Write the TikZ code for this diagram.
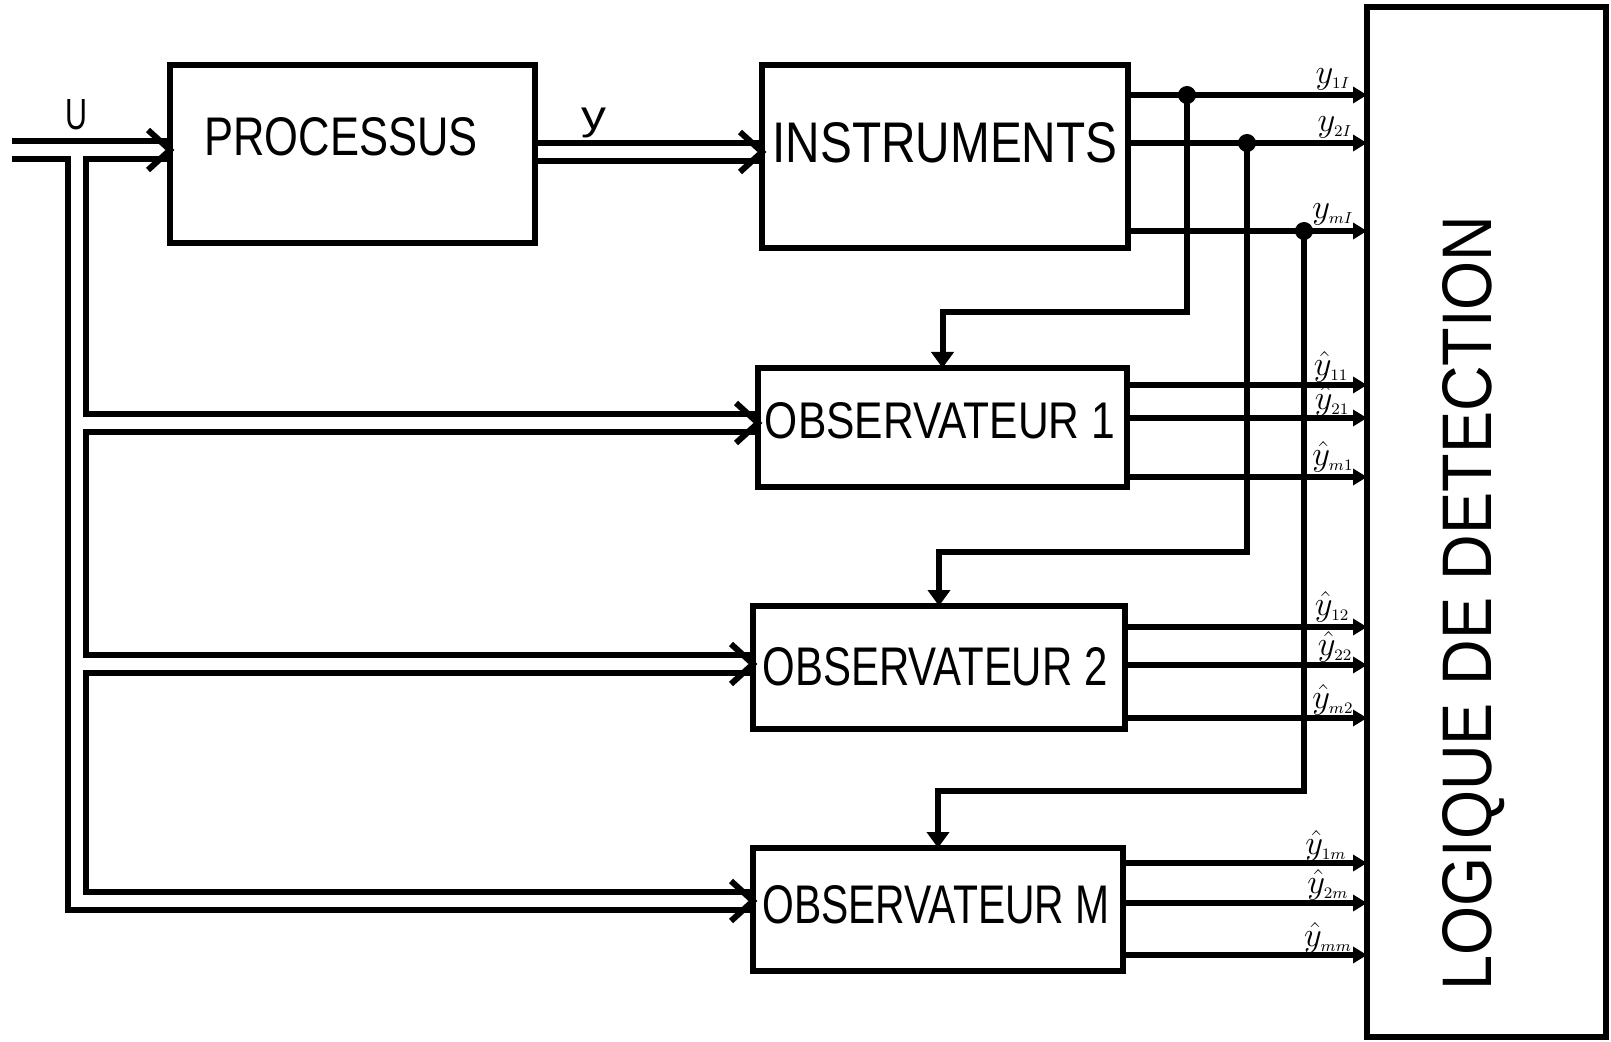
\documentclass[tikz,border=0pt]{standalone}
\usepackage{fontspec}
\setmainfont{Liberation Sans}
\usepackage{graphicx}
\usetikzlibrary{arrows.meta,calc}
\newcommand{\dblhead}[1]{\draw[chev] ($(#1)+(-22,-20)$) -- (#1) -- ($(#1)+(-22,20)$);}
\newcommand{\ysub}[2]{#1_{\scriptscriptstyle #2}}
\begin{document}
\begin{tikzpicture}[x=0.5pt,y=-0.5pt,
  box/.style={draw, line width=3pt, inner sep=0pt, outer sep=0pt, rectangle},
  wire/.style={line width=3pt, line cap=butt, line join=miter},
  bus/.style={line width=3pt, double=white, double distance=6pt, line join=miter},
  chev/.style={line width=3pt, line join=miter},
  outarrow/.style={wire, -{Triangle[length=7pt,width=8pt]}},
  downarrow/.style={wire, -{Triangle[length=8pt,width=11pt]}},
  dot/.style={circle, fill, inner sep=0pt, minimum size=9pt},
  lbl/.style={inner sep=0pt, font=\fontsize{16.5}{16.5}\selectfont},
  txt/.style={inner sep=0pt}
]
\useasboundingbox[fill=white] (0,0) rectangle (1611,1042);

% boxes
\node[box, minimum width=182.5pt, minimum height=89pt] (proc) at (352.5,154) {};
\node[box, minimum width=183pt, minimum height=91.5pt] (inst) at (945,156.5) {};
\node[box, minimum width=184.5pt, minimum height=59.5pt] (obs1) at (942.5,427.5) {};
\node[box, minimum width=186pt, minimum height=61.5pt] (obs2) at (939,667.5) {};
\node[box, minimum width=185pt, minimum height=61.5pt] (obsM) at (938,909.5) {};
\node[box, minimum width=119.5pt, minimum height=515pt] (logic) at (1486.5,522) {};

% box texts
\node[txt] (proctxt) at (341,137) {\resizebox{136.5pt}{19pt}{PROCESSUS}};
\node[txt] (insttxt) at (945,143) {\resizebox{172.5pt}{20pt}{INSTRUMENTS}};
\node[txt] (obs1txt) at (940,421) {\resizebox{175pt}{18pt}{OBSERVATEUR 1}};
\node[txt] (obs2txt) at (935,667) {\resizebox{172.5pt}{19pt}{OBSERVATEUR 2}};
\node[txt] (obsMtxt) at (936,905) {\resizebox{173.5pt}{19pt}{OBSERVATEUR M}};
\node[txt, rotate=90] (logictxt) at (1474,603) {\resizebox{387.5pt}{24.5pt}{LOGIQUE DE DETECTION}};
\node[txt] (ulbl) at (76,115) {\resizebox{11pt}{15pt}{U}};
\node[txt] (ylbl) at (594,123) {\resizebox*{12.5pt}{15pt}{y}};

% input bus U and y
\coordinate (uin) at (12,150);
\coordinate (ylev) at (0,152);
\coordinate (btop) at (77,156);
\coordinate (bbot) at (77,901);
\coordinate (b1) at (83,423);
\coordinate (b2) at (83,664);

\draw[bus, shorten >=1.5pt] (uin) -- (proc.west |- uin);
\dblhead{proc.west |- uin}
\draw[bus, shorten <=1.5pt, shorten >=1.5pt] (proc.east |- ylev) -- (inst.west |- ylev);
\dblhead{inst.west |- ylev}
\draw[bus, shorten >=1.5pt] (btop) -- (bbot) -- (obsM.west |- bbot);
\dblhead{obsM.west |- bbot}
\draw[bus, shorten >=1.5pt] (b1) -- (obs1.west |- b1);
\dblhead{obs1.west |- b1}
\draw[bus, shorten >=1.5pt] (b2) -- (obs2.west |- b2);
\dblhead{obs2.west |- b2}

% junction dots
\node[dot] (j1) at (1187,95) {};
\node[dot] (j2) at (1247,143) {};
\node[dot] (j3) at (1304,231) {};
\coordinate (k1) at (1187,312);
\coordinate (k2) at (1247,552);
\coordinate (k3) at (1304,791);

% instrument outputs
\draw[outarrow] (inst.east |- j1) -- (logic.west |- j1);
\draw[outarrow] (inst.east |- j2) -- (logic.west |- j2);
\draw[outarrow] (inst.east |- j3) -- (logic.west |- j3);

% feeds to observers
\draw[downarrow] (j1.center) -- (k1) -| (obs1.north);
\draw[downarrow] (j2.center) -- (k2) -| (obs2.north);
\draw[downarrow] (j3.center) -- (k3) -| (obsM.north);

% observer outputs
\coordinate (L11) at (0,385);
\coordinate (L21) at (0,418);
\coordinate (Lm1) at (0,477);
\coordinate (L12) at (0,627);
\coordinate (L22) at (0,665);
\coordinate (Lm2) at (0,718);
\coordinate (L1m) at (0,863);
\coordinate (L2m) at (0,903);
\coordinate (Lmm) at (0,955);
\draw[outarrow] (obs1.east |- L11) -- (logic.west |- L11);
\draw[outarrow] (obs1.east |- L21) -- (logic.west |- L21);
\draw[outarrow] (obs1.east |- Lm1) -- (logic.west |- Lm1);
\draw[outarrow] (obs2.east |- L12) -- (logic.west |- L12);
\draw[outarrow] (obs2.east |- L22) -- (logic.west |- L22);
\draw[outarrow] (obs2.east |- Lm2) -- (logic.west |- Lm2);
\draw[outarrow] (obsM.east |- L1m) -- (logic.west |- L1m);
\draw[outarrow] (obsM.east |- L2m) -- (logic.west |- L2m);
\draw[outarrow] (obsM.east |- Lmm) -- (logic.west |- Lmm);

% labels
\node[lbl] (ly1) at (1333,79) {$\ysub{y}{1I}$};
\node[lbl] (ly2) at (1335,127) {$\ysub{y}{2I}$};
\node[lbl] (lym) at (1333,214) {$\ysub{y}{mI}$};
\node[lbl] (l11) at (1331,367) {$\ysub{\hat{y}}{11}$};
\node[lbl] (l21) at (1332,401) {$\ysub{\hat{y}}{21}$};
\node[lbl] (lm1) at (1333,457) {$\ysub{\hat{y}}{m1}$};
\node[lbl] (l12) at (1332,607) {$\ysub{\hat{y}}{12}$};
\node[lbl] (l22) at (1335,647) {$\ysub{\hat{y}}{22}$};
\node[lbl] (lm2) at (1333,700) {$\ysub{\hat{y}}{m2}$};
\node[lbl] (l1m) at (1326,846) {$\ysub{\hat{y}}{1m}$};
\node[lbl] (l2m) at (1328,885) {$\ysub{\hat{y}}{2m}$};
\node[lbl] (lmm) at (1328,938) {$\ysub{\hat{y}}{mm}$};
\end{tikzpicture}
\end{document}
